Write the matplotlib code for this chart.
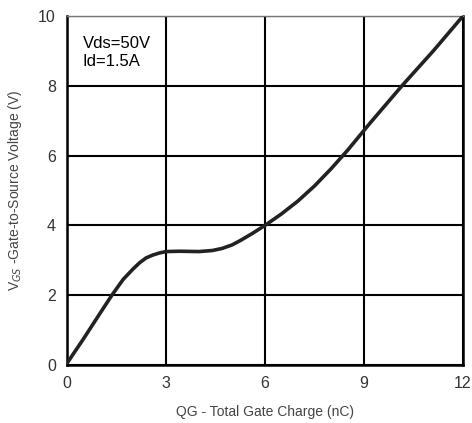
import numpy as np
from matplotlib import pyplot as plt

# gate charge curve
qg = [0.0, 0.5, 1.0, 1.36, 1.7, 2.0, 2.2, 2.4, 2.6, 2.8, 3.0, 3.4, 4.0, 4.4,
      4.7, 5.0, 5.24, 5.6, 6.0, 6.5, 7.0, 7.5, 8.0, 8.5, 9.2, 10.15, 11.1, 12.0]
vgs = [0.05, 0.75, 1.48, 2.0, 2.45, 2.75, 2.93, 3.07, 3.15, 3.21, 3.25, 3.26, 3.25, 3.28,
       3.34, 3.44, 3.56, 3.76, 4.0, 4.33, 4.7, 5.13, 5.62, 6.15, 6.95, 8.0, 9.0, 10.0]

x_ticks = [0, 3, 6, 9, 12]
y_ticks = [0, 2, 4, 6, 8, 10]

plt.rcParams['font.family'] = ['Liberation Sans', 'DejaVu Sans']

fig = plt.figure(figsize=(4.72, 4.23), dpi=100)
ax = fig.add_axes([67 / 472, 1 - 365 / 423, 396 / 472, 349 / 423])

ax.plot(qg, vgs, color='#222222', lw=2.6, solid_capstyle='round',
        solid_joinstyle='round', zorder=3)

ax.set_xlim(0, 12)
ax.set_ylim(0, 10)
ax.set_xticks(x_ticks)
ax.set_yticks(y_ticks)
ax.grid(True, color='black', lw=1.5)
ax.tick_params(length=0, labelsize=11.5, labelcolor='#333333', pad=8)

for side in ['left', 'bottom', 'right']:
    ax.spines[side].set_linewidth(1.8)
    ax.spines[side].set_color('black')
ax.spines['top'].set_linewidth(1.0)
ax.spines['top'].set_color('#777777')

ax.set_xlabel('QG - Total Gate Charge (nC)', fontsize=10, color='#444444', labelpad=10)
ax.set_ylabel('V$_{GS}$ -Gate-to-Source Voltage (V)', fontsize=10, color='#444444', labelpad=10)

ax.text(0.47, 8.95, 'Vds=50V\nId=1.5A', fontsize=12, color='black',
        va='center', ha='left', linespacing=1.2)

fig.savefig('out.png', dpi=100, facecolor='white')
